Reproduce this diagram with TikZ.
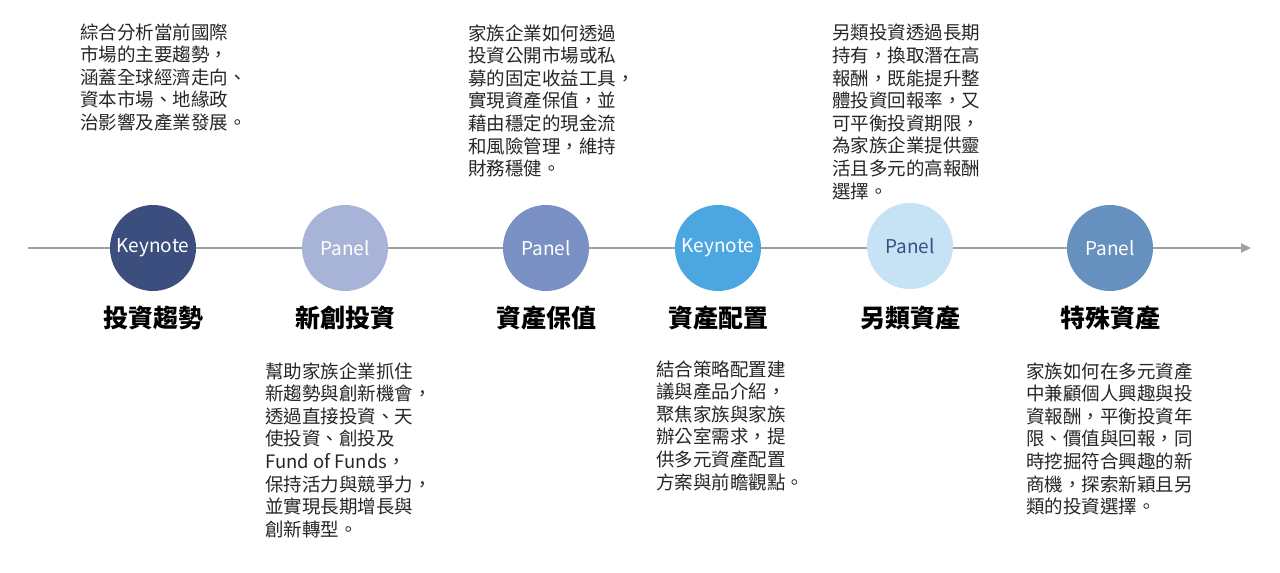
\documentclass[tikz,border=0pt]{standalone}
\usepackage{fontspec}
\setmainfont{Noto Sans CJK TC}
\usetikzlibrary{arrows.meta,positioning}
\definecolor{StageNavy}{HTML}{3C4E7E}
\definecolor{StageLav}{HTML}{A7B4D8}
\definecolor{StageSlate}{HTML}{7A8FC3}
\definecolor{StageSky}{HTML}{4CA7E1}
\definecolor{StagePale}{HTML}{C6E2F5}
\definecolor{StageSteel}{HTML}{6690BE}
\definecolor{LineGray}{HTML}{A0A0A0}
\definecolor{TxtDark}{HTML}{262626}

\begin{document}
\begin{tikzpicture}[x=0.5pt,y=-0.5pt,
  stage/.style={circle,minimum size=43pt,inner sep=0pt,font=\fontsize{9.5}{11}\selectfont},
  title/.style={font=\fontsize{12.5}{14}\selectfont\bfseries,text=black},
  blurb/.style={anchor=north west,align=left,inner sep=0pt,font=\fontsize{9.25}{11.3}\selectfont,text=TxtDark}]
  \useasboundingbox (0,0) rectangle (1280,573);
  % timeline axis
  \coordinate (axstart) at (28,248);
  \coordinate (axend) at (1251,248);
  \draw[LineGray,line width=1pt,-{Triangle[length=5pt,width=4.5pt]}] (axstart) -- (axend);
  % stages
  \foreach \n/\x/\y/\col/\tc/\lab/\name in {
    1/153/248/StageNavy/white/Keynote/投資趨勢,
    2/345/248/StageLav/white/Panel/新創投資,
    3/546/248/StageSlate/white/Panel/資產保值,
    4/718/248/StageSky/white/Keynote/資產配置,
    5/910/246/StagePale/StageNavy/Panel/另類資產,
    6/1110/248/StageSteel/white/Panel/特殊資產} {
    \node[stage,fill=\col,text=\tc] (s\n) at (\x,\y) {\lab};
    \node[title] (h\n) at (\x,318) {\name};
  }
  % descriptions
  \node[blurb] (d1) at (80,23) {綜合分析當前國際\\市場的主要趨勢，\\涵蓋全球經濟走向、\\資本市場、地緣政\\治影響及產業發展。};
  \node[blurb] (d2) at (265,362) {幫助家族企業抓住\\新趨勢與創新機會，\\透過直接投資、天\\使投資、創投及\\Fund of Funds，\\保持活力與競爭力，\\並實現長期增長與\\創新轉型。};
  \node[blurb] (d3) at (468,24) {家族企業如何透過\\投資公開市場或私\\募的固定收益工具，\\實現資產保值，並\\藉由穩定的現金流\\和風險管理，維持\\財務穩健。};
  \node[blurb] (d4) at (656,360) {結合策略配置建\\議與產品介紹，\\聚焦家族與家族\\辦公室需求，提\\供多元資產配置\\方案與前瞻觀點。};
  \node[blurb] (d5) at (832,24) {另類投資透過長期\\持有，換取潛在高\\報酬，既能提升整\\體投資回報率，又\\可平衡投資期限，\\為家族企業提供靈\\活且多元的高報酬\\選擇。};
  \node[blurb] (d6) at (1026,362) {家族如何在多元資產\\中兼顧個人興趣與投\\資報酬，平衡投資年\\限、價值與回報，同\\時挖掘符合興趣的新\\商機，探索新穎且另\\類的投資選擇。};
\end{tikzpicture}
\end{document}
